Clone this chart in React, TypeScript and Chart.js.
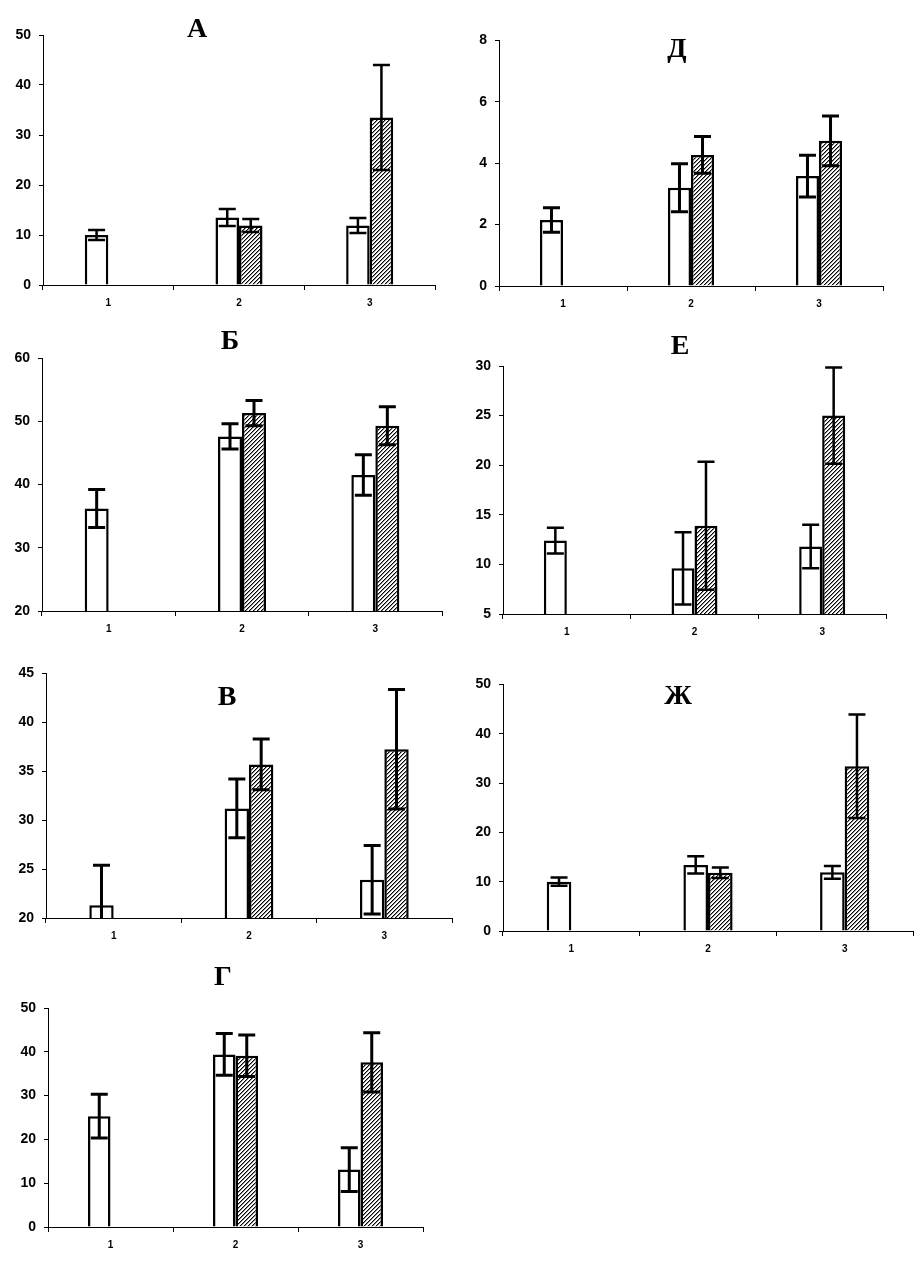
import React, { useEffect, useRef } from 'react';
import { Chart, registerables } from 'chart.js';

Chart.register(...registerables);

// ---------- DATA ----------
const categories = ['1', '2', '3'];
const panelTitles = ['А', 'Д', 'Б', 'Е', 'В', 'Ж', 'Г'];

const yMins = [0, 0, 20, 5, 20, 0, 0];
const yMaxs = [50, 8, 60, 30, 45, 50, 50];
const ySteps = [10, 2, 10, 5, 5, 10, 10];

const aWhite = [10, 13.5, 11.9];
const aWhiteErr = [1, 1.7, 1.5];
const aHatch = [null, 11.9, 33.5];
const aHatchErr = [null, 1.3, 10.5];

const dWhite = [2.15, 3.2, 3.58];
const dWhiteErr = [0.4, 0.78, 0.68];
const dHatch = [null, 4.27, 4.73];
const dHatchErr = [null, 0.6, 0.81];

const bWhite = [36.2, 47.6, 41.5];
const bWhiteErr = [3, 2, 3.2];
const bHatch = [null, 51.3, 49.3];
const bHatchErr = [null, 2, 3];

const eWhite = [12.4, 9.6, 11.8];
const eWhiteErr = [1.3, 3.65, 2.2];
const eHatch = [null, 13.9, 25];
const eHatchErr = [null, 6.45, 4.85];

const vWhite = [21.3, 31.2, 23.9];
const vWhiteErr = [4.1, 3, 3.5];
const vHatch = [null, 35.7, 37.25];
const vHatchErr = [null, 2.6, 6.1];

const zhWhite = [10, 13.4, 11.9];
const zhWhiteErr = [0.85, 1.75, 1.3];
const zhHatch = [null, 11.8, 33.4];
const zhHatchErr = [null, 1.05, 10.5];

const gWhite = [25.3, 39.4, 13.1];
const gWhiteErr = [5, 4.75, 5];
const gHatch = [null, 39.1, 37.6];
const gHatchErr = [null, 4.75, 6.75];

const whiteSeries = [aWhite, dWhite, bWhite, eWhite, vWhite, zhWhite, gWhite];
const whiteErrors = [aWhiteErr, dWhiteErr, bWhiteErr, eWhiteErr, vWhiteErr, zhWhiteErr, gWhiteErr];
const hatchSeries = [aHatch, dHatch, bHatch, eHatch, vHatch, zhHatch, gHatch];
const hatchErrors = [aHatchErr, dHatchErr, bHatchErr, eHatchErr, vHatchErr, zhHatchErr, gHatchErr];

// ---------- LAYOUT (page pixels) ----------
const layouts = [
  { axisX: 43, top: 35, bottom: 285, right: 435, titleX: 197, titleY: 30, errW: 2.5 },
  { axisX: 499, top: 38, bottom: 286, right: 883, titleX: 677, titleY: 50, errW: 3 },
  { axisX: 42, top: 358, bottom: 611, right: 442, titleX: 230, titleY: 342, errW: 3 },
  { axisX: 503, top: 366, bottom: 614, right: 886, titleX: 680, titleY: 347, errW: 2.5 },
  { axisX: 46, top: 671, bottom: 918, right: 452, titleX: 227, titleY: 698, errW: 3 },
  { axisX: 503, top: 682, bottom: 931, right: 913, titleX: 678, titleY: 697, errW: 2.5 },
  { axisX: 48, top: 1008, bottom: 1227, right: 423, titleX: 223, titleY: 978, errW: 3 },
];

const Y_AXIS_W = 50;
const X_AXIS_H = 30;

function makeHatch(): CanvasPattern | string {
  const c = document.createElement('canvas');
  c.width = 4;
  c.height = 4;
  const ctx = c.getContext('2d');
  if (!ctx) return '#888';
  ctx.fillStyle = '#fff';
  ctx.fillRect(0, 0, 4, 4);
  for (let y = 0; y < 4; y++) {
    ctx.fillStyle = '#000';
    ctx.fillRect((3 - y + 4) % 4, y, 1, 1);
    ctx.fillStyle = 'rgba(0,0,0,0.45)';
    ctx.fillRect((4 - y + 4) % 4, y, 1, 1);
  }
  const p = ctx.createPattern(c, 'repeat');
  return p || '#888';
}

function Panel({ idx }: { idx: number }) {
  const ref = useRef<HTMLCanvasElement | null>(null);
  const L = layouts[idx];
  const canvasLeft = L.axisX - Y_AXIS_W;
  const canvasTop = Math.min(L.top - 14, L.titleY - 22);
  const width = L.right + 6 - canvasLeft;
  const height = L.bottom + X_AXIS_H - canvasTop;

  useEffect(() => {
    if (!ref.current) return;
    const hatch = makeHatch();
    const errorBars = {
      id: 'errorBars',
      afterDatasetsDraw(chart: any) {
        const ctx = chart.ctx;
        const yScale = chart.scales.y;
        const area = chart.chartArea;
        ctx.save();
        ctx.beginPath();
        ctx.rect(area.left - 20, area.top - 20, area.right - area.left + 40, area.bottom - area.top + 20);
        ctx.clip();
        ctx.strokeStyle = '#000';
        ctx.lineWidth = L.errW;
        chart.data.datasets.forEach((ds: any, di: number) => {
          const meta = chart.getDatasetMeta(di);
          meta.data.forEach((el: any, i: number) => {
            const v = ds.data[i];
            const e = ds.errors[i];
            if (v == null || e == null) return;
            const x = el.x;
            const yt = yScale.getPixelForValue(v + e);
            const yb = Math.min(yScale.getPixelForValue(v - e), area.bottom);
            const hw = 8.5;
            ctx.beginPath();
            ctx.moveTo(x, yt);
            ctx.lineTo(x, yb);
            ctx.moveTo(x - hw, yt);
            ctx.lineTo(x + hw, yt);
            if (v - e >= yScale.min) {
              ctx.moveTo(x - hw, yb);
              ctx.lineTo(x + hw, yb);
            }
            ctx.stroke();
          });
        });
        ctx.restore();
      },
    };
    const titlePlugin = {
      id: 'panelTitle',
      afterDraw(chart: any) {
        const ctx = chart.ctx;
        ctx.save();
        ctx.fillStyle = '#000';
        ctx.font = 'bold 28px "Liberation Serif", "Times New Roman", serif';
        ctx.textAlign = 'center';
        ctx.textBaseline = 'middle';
        ctx.fillText(panelTitles[idx], L.titleX - canvasLeft, L.titleY - canvasTop);
        ctx.restore();
      },
    };

    const chart = new Chart(ref.current, {
      type: 'bar',
      data: {
        labels: categories,
        datasets: [
          {
            data: whiteSeries[idx],
            errors: whiteErrors[idx],
            backgroundColor: '#ffffff',
            borderColor: '#000000',
            borderWidth: 2.5,
            categoryPercentage: 0.36,
            barPercentage: 1,
          } as any,
          {
            data: hatchSeries[idx],
            errors: hatchErrors[idx],
            backgroundColor: hatch,
            borderColor: '#000000',
            borderWidth: 2.5,
            categoryPercentage: 0.36,
            barPercentage: 1,
          } as any,
        ],
      },
      options: {
        animation: false,
        responsive: false,
        devicePixelRatio: 1,
        layout: {
          padding: { top: L.top - canvasTop, right: 6, left: 0, bottom: 0 },
        },
        plugins: {
          legend: { display: false },
          tooltip: { enabled: false },
          title: { display: false },
        },
        scales: {
          x: {
            offset: true,
            border: { display: true, color: '#000', width: 1 },
            grid: {
              display: true,
              offset: true,
              drawOnChartArea: false,
              drawTicks: true,
              tickLength: 5,
              color: '#000',
            },
            ticks: {
              color: '#000',
              padding: 7,
              font: { family: '"Liberation Sans", Arial, sans-serif', size: 10, weight: 'bold' },
            },
            afterFit(scale: any) {
              scale.height = X_AXIS_H;
            },
          },
          y: {
            min: yMins[idx],
            max: yMaxs[idx],
            border: { display: true, color: '#000', width: 1 },
            grid: {
              display: true,
              drawOnChartArea: false,
              drawTicks: true,
              tickLength: 4,
              color: '#000',
            },
            ticks: {
              stepSize: ySteps[idx],
              color: '#000',
              padding: 8,
              font: { family: '"Liberation Sans", Arial, sans-serif', size: 14, weight: 'bold' },
            },
            afterFit(scale: any) {
              scale.width = Y_AXIS_W;
            },
          },
        },
      },
      plugins: [errorBars, titlePlugin],
    } as any);
    return () => chart.destroy();
  }, [idx]);

  return (
    <canvas
      ref={ref}
      width={width}
      height={height}
      style={{ position: 'absolute', left: canvasLeft, top: canvasTop, width, height }}
    />
  );
}

export default function App() {
  return (
    <div
      style={{
        position: 'absolute',
        left: 0,
        top: 0,
        width: 923,
        height: 1268,
        background: '#fff',
        overflow: 'hidden',
      }}
    >
      {layouts.map((_, i) => (
        <Panel key={i} idx={i} />
      ))}
    </div>
  );
}
